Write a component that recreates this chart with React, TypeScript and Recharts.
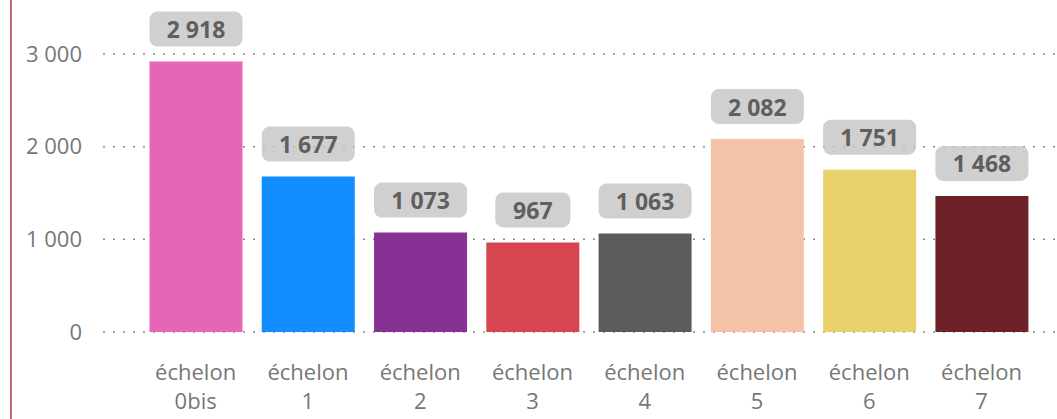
import { BarChart, Bar, XAxis, YAxis, CartesianGrid, Cell, LabelList } from 'recharts'

const categories = ['0bis', '1', '2', '3', '4', '5', '6', '7']
const values = [2918, 1677, 1073, 967, 1063, 2082, 1751, 1468]
const barColors = ['#E565B7', '#118DFF', '#883194', '#D64550', '#5B5B5B', '#F4C2A9', '#E8D06A', '#6C2227']
const yTicks = [0, 1000, 2000, 3000]

const data = categories.map((c, i) => ({ name: c, value: values[i] }))

const FONT = '"Open Sans", "Noto Sans", sans-serif'

// thousands separated by a space, like the original
const fmt = (v: number) => String(v).replace(/\B(?=(\d{3})+(?!\d))/g, ' ')

function XTick({ x, y, payload }: any) {
  return (
    <g>
      <text x={x} y={y + 46} textAnchor="middle" fill="#777" fontSize={22} fontFamily={FONT}>
        échelon
      </text>
      <text x={x} y={y + 75} textAnchor="middle" fill="#777" fontSize={22} fontFamily={FONT}>
        {payload.value}
      </text>
    </g>
  )
}

function ValueLabel({ x, y, width, value }: any) {
  const s = fmt(value)
  const digits = s.replace(/ /g, '').length
  const spaces = s.length - digits
  const textW = digits * 13.7 + spaces * 5
  const boxW = Math.min(width, textW + 34)
  const cx = x + width / 2
  const bottom = y - 15
  const h = 35
  return (
    <g>
      <rect x={cx - boxW / 2} y={bottom - h} width={boxW} height={h} rx={8} fill="#c4c4c4" fillOpacity={0.8} />
      <text
        x={cx}
        y={bottom - h / 2}
        textAnchor="middle"
        dominantBaseline="central"
        fill="#5f5f5f"
        fontSize={23}
        fontWeight="bold"
        fontFamily={FONT}
      >
        {s}
      </text>
    </g>
  )
}

export default function App() {
  return (
    <div style={{ position: 'absolute', left: 0, top: 0, width: 1057, height: 419, background: '#fff' }}>
      <div style={{ position: 'absolute', left: 10, top: 0, width: 2, height: 419, background: '#c96a72' }} />
      <BarChart width={1057} height={419} data={data} margin={{ top: 54, right: 0, bottom: 57, left: 0 }}>
        <CartesianGrid vertical={false} stroke="#8a8a8a" strokeDasharray="2 8" strokeWidth={1.5} />
        <XAxis
          dataKey="name"
          height={30}
          axisLine={false}
          tickLine={false}
          tickSize={0}
          tick={<XTick />}
          interval={0}
          padding={{ left: 36.5, right: 19.3 }}
        />
        <YAxis
          width={103}
          domain={[0, 3000]}
          ticks={yTicks}
          axisLine={false}
          tickLine={false}
          tickSize={0}
          tickMargin={21}
          tickFormatter={fmt}
          tick={{ fill: '#777', fontSize: 22, fontFamily: FONT }}
        />
        <Bar dataKey="value" barSize={93} isAnimationActive={false}>
          {data.map((d, i) => (
            <Cell key={d.name} fill={barColors[i]} />
          ))}
          <LabelList dataKey="value" content={<ValueLabel />} />
        </Bar>
      </BarChart>
    </div>
  )
}
